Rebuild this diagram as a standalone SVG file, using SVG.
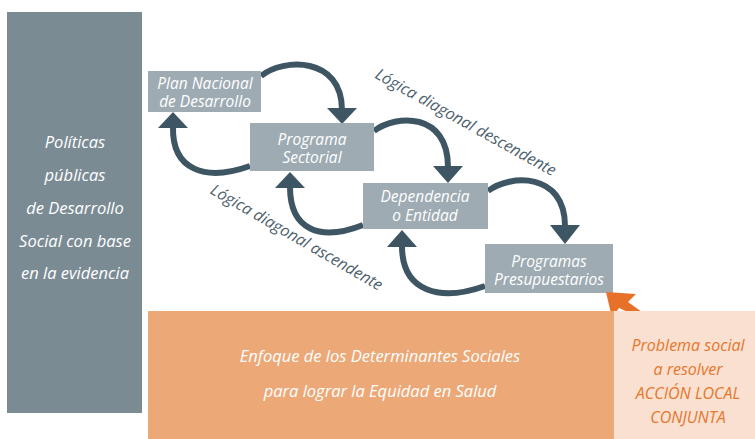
<svg xmlns="http://www.w3.org/2000/svg" width="755" height="439" viewBox="0 0 755 439">
<style>
text{font-family:"Open Sans","Noto Sans","Liberation Sans",sans-serif;font-style:italic;font-weight:400;text-anchor:middle}
.nb{fill:#9eabb3}
.nt{fill:#ffffff;font-size:15.5px}
.lt{fill:#ffffff;font-size:16.5px}
.arc{fill:none;stroke:#3e5563;stroke-width:6}
.ah{fill:#3e5563}
.lab{fill:#4d616d;font-size:16px}
.ot{fill:#ffffff;font-size:16.5px}
.pt{fill:#e5772c;font-size:16px}
</style>
<rect width="755" height="439" fill="#ffffff"/>
<g id="politicas">
<rect x="7" y="12" width="135" height="401" fill="#7b8b94"/>
<text class="lt" x="75" y="148">Políticas</text>
<text class="lt" x="75" y="181">públicas</text>
<text class="lt" x="75" y="214">de Desarrollo</text>
<text class="lt" x="75" y="247">Social con base</text>
<text class="lt" x="75" y="279">en la evidencia</text>
</g>
<g id="connectors">
<path class="arc" d="M261,76 C283,58 342,56 342,110"/>
<polygon class="ah" points="327,108 357,108 342,124"/>
<path class="arc" d="M374,131 C396,114 448,112 448,167"/>
<polygon class="ah" points="433,166 463,166 448,183"/>
<path class="arc" d="M488,191 C510,174 565,172 565,226"/>
<polygon class="ah" points="550,225 580,225 565,244"/>
<path class="arc" d="M250,166 C205,182 172,170 173,127"/>
<polygon class="ah" points="158,128 188,128 173,112"/>
<path class="arc" d="M363,225 C320,242 290,230 290,187"/>
<polygon class="ah" points="275,188 305,188 290,172"/>
<path class="arc" d="M485,286 C440,302 402,292 402,246"/>
<polygon class="ah" points="387,247 417,247 402,230"/>
</g>
<g id="plan">
<rect class="nb" x="148" y="71" width="113" height="41"/>
<text class="nt" x="205" y="89">Plan Nacional</text>
<text class="nt" x="205" y="107">de Desarrollo</text>
</g>
<g id="sectorial">
<rect class="nb" x="250" y="123" width="124" height="48"/>
<text class="nt" x="312" y="145">Programa</text>
<text class="nt" x="312" y="163">Sectorial</text>
</g>
<g id="dependencia">
<rect class="nb" x="363" y="183" width="125" height="46"/>
<text class="nt" x="425" y="202">Dependencia</text>
<text class="nt" x="425" y="221">o Entidad</text>
</g>
<g id="programas">
<rect class="nb" x="485" y="244" width="128" height="49"/>
<text class="nt" x="549" y="267">Programas</text>
<text class="nt" x="549" y="285">Presupuestarios</text>
</g>
<g id="labels">
<text class="lab" transform="translate(463,127) rotate(29)">Lógica diagonal descendente</text>
<text class="lab" transform="translate(294,242) rotate(30)">Lógica diagonal ascendente</text>
</g>
<g id="orange-arrow">
<polygon points="606,292 636,294 628,302 642,312 628,312 619,308 612,318" fill="#e8712a"/>
</g>
<g id="enfoque">
<rect x="148" y="311" width="466" height="128" fill="#eca877"/>
<text class="ot" x="380" y="362">Enfoque de los Determinantes Sociales</text>
<text class="ot" x="380" y="397">para lograr la Equidad en Salud</text>
</g>
<g id="problema">
<rect x="614" y="311" width="141" height="128" fill="#fae0d1"/>
<text class="pt" x="688" y="351">Problema social</text>
<text class="pt" x="688" y="375">a resolver</text>
<text class="pt" x="688" y="399">ACCIÓN LOCAL</text>
<text class="pt" x="688" y="423">CONJUNTA</text>
</g>
</svg>
